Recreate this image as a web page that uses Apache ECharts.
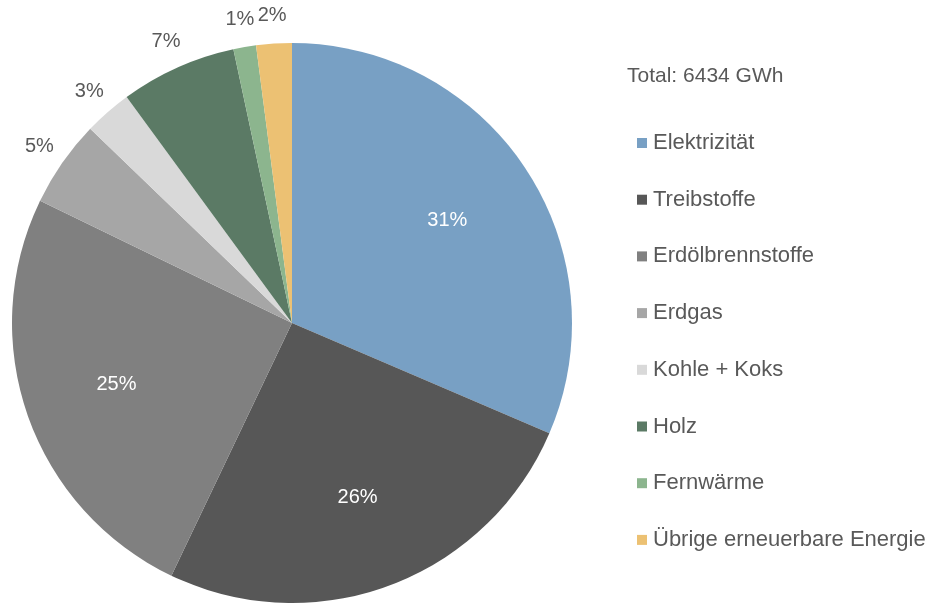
<!DOCTYPE html>
<html>
<head>
<meta charset="utf-8">
<script src="https://cdn.jsdelivr.net/npm/echarts@6/dist/echarts.min.js"></script>
<style>
  html, body { margin: 0; padding: 0; background: #fff; }
  #chart { width: 930px; height: 603px; }
</style>
</head>
<body>
<div id="chart"></div>
<script>
// Endenergieverbrauch nach Energieträger (GWh)
const names = ['Elektrizität', 'Treibstoffe', 'Erdölbrennstoffe', 'Erdgas',
  'Kohle + Koks', 'Holz', 'Fernwärme', 'Übrige erneuerbare Energie'];
const values = [2023, 1650, 1615, 322, 177, 431, 84, 132];
const colors = ['#78a0c4', '#575757', '#808080', '#a6a6a6',
  '#d9d9d9', '#5b7a65', '#8cb58e', '#ecc173'];
// which slices get their label outside the pie
const outside = [false, false, false, true, true, true, true, true];
const totalText = 'Total: 6434 GWh';

const font = 'Liberation Sans, Arial, sans-serif';
const center = [292, 323];

function pct(p) {
  return Math.round(p.percent) + '%';
}

function labelData(showOutside) {
  return names.map(function (n, i) {
    return {
      name: n,
      value: values[i],
      label: { show: outside[i] === showOutside }
    };
  });
}

const option = {
  animation: false,
  title: {
    text: totalText,
    left: 627,
    top: 66,
    padding: 0,
    textStyle: { color: '#595959', fontSize: 21, fontWeight: 'normal', fontFamily: font }
  },
  legend: {
    orient: 'vertical',
    left: 637,
    top: 132,
    padding: 0,
    itemWidth: 10,
    itemHeight: 10,
    itemGap: 34.7,
    icon: 'rect',
    selectedMode: false,
    data: names.map(function (n, i) {
      return { name: n, itemStyle: { color: colors[i] } };
    }),
    textStyle: {
      color: '#595959', fontSize: 22, lineHeight: 22, fontFamily: font,
      padding: [0, 0, 0, 1]
    }
  },
  series: [
    {
      name: 'Anteil',
      type: 'pie',
      center: center,
      radius: 280,
      startAngle: 90,
      clockwise: true,
      silent: true,
      label: { show: false },
      labelLine: { show: false },
      data: names.map(function (n, i) {
        return { name: n, value: values[i], itemStyle: { color: colors[i] } };
      })
    },
    {
      // inner labels for the big slices
      type: 'pie',
      center: center,
      radius: [0, 366],
      startAngle: 90,
      silent: true,
      itemStyle: { color: 'transparent' },
      label: {
        position: 'inside',
        formatter: pct,
        color: '#ffffff',
        fontSize: 20,
        fontFamily: font
      },
      labelLine: { show: false },
      data: labelData(false)
    },
    {
      // outer labels for the small slices
      type: 'pie',
      center: center,
      radius: [280, 330],
      startAngle: 90,
      silent: true,
      itemStyle: { color: 'transparent' },
      label: {
        position: 'inside',
        formatter: pct,
        color: '#595959',
        fontSize: 20,
        fontFamily: font
      },
      labelLine: { show: false },
      data: labelData(true)
    }
  ]
};

const chart = echarts.init(document.getElementById('chart'));
chart.setOption(option);
</script>
</body>
</html>
